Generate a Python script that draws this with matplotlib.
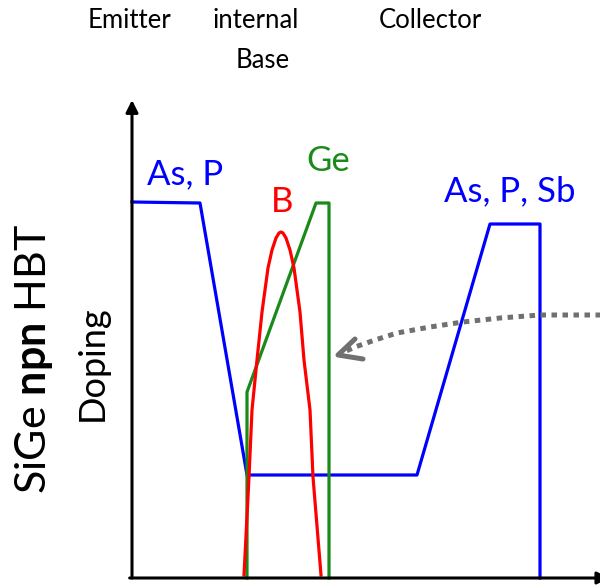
import matplotlib
matplotlib.use("Agg")
import matplotlib.pyplot as plt

plt.rcParams["font.family"] = ["Lato", "DejaVu Sans"]
plt.rcParams["mathtext.fontset"] = "custom"
plt.rcParams["mathtext.rm"] = "Lato"
plt.rcParams["mathtext.bf"] = "Lato:bold"

# Doping profiles (depth, level)
emitter_depth = [0, 68, 115, 285, 358, 408, 408]
emitter_level = [376, 375, 103, 103, 354, 354, 0]

ge_depth = [115, 115, 184, 197, 197]
ge_level = [0, 186, 375, 375, 0]

b_depth = [112, 117, 120, 125, 130, 133, 136, 140, 144, 147, 149, 151,
           154, 158, 162, 165, 168, 172, 178, 181, 189]
b_level = [3, 101, 168, 218, 266, 288, 310, 328, 340, 345, 346, 345,
           340, 328, 310, 288, 266, 218, 168, 101, 3]

# dotted pointer curve
arrow_depth = [470, 408, 368, 331, 298, 265, 243, 223, 212]
arrow_level = [263, 263, 260, 256, 251, 245, 238, 231, 226]
head_depth = [223, 206, 231]
head_level = [239, 223, 219]

region_labels = ["Emitter", "internal", "Base", "Collector"]

BLUE = "#0000ff"
GREEN = "#1a8a1a"
RED = "#ff0000"
GREY = "#707070"

fig = plt.figure(figsize=(6.0, 5.88), dpi=100)
ax = fig.add_axes([132 / 600, 10 / 588, 468 / 600, 478 / 588])
ax.set_xlim(0, 468)
ax.set_ylim(0, 478)
ax.axis("off")

line_kw = dict(lw=2.3, clip_on=False, solid_joinstyle="round")
ax.plot(emitter_depth, emitter_level, color=BLUE, **line_kw)
ax.plot(ge_depth, ge_level, color=GREEN, **line_kw)
ax.plot(b_depth, b_level, color=RED, **line_kw)

ax.plot(arrow_depth, arrow_level, color=GREY, lw=3.6,
        ls=(0, (1.1, 1.1)), dash_capstyle="butt", clip_on=False)
ax.plot(head_depth, head_level, color=GREY, lw=3.6, solid_capstyle="round",
        solid_joinstyle="round", clip_on=False)

# axes with arrow heads
ax.annotate("", xy=(0, 1.0), xytext=(0, 0), xycoords="axes fraction",
            arrowprops=dict(arrowstyle="-|>", lw=2.2, color="k",
                            mutation_scale=18, shrinkA=0, shrinkB=0))
ax.annotate("", xy=(1.02, 0), xytext=(-0.005, 0), xycoords="axes fraction",
            arrowprops=dict(arrowstyle="-|>", lw=2.2, color="k",
                            mutation_scale=18, shrinkA=0, shrinkB=0))

kw = dict(ha="center", va="center", clip_on=False)
ax.text(-2, 558, region_labels[0], fontsize=18.5, **kw)
ax.text(124, 558, region_labels[1], fontsize=18.5, **kw)
ax.text(131, 518, region_labels[2], fontsize=18.5, **kw)
ax.text(298, 558, region_labels[3], fontsize=18.5, **kw)

ax.text(53, 404, "As, P", fontsize=25, color=BLUE, **kw)
ax.text(150, 376, "B", fontsize=25, color=RED, **kw)
ax.text(196, 417, "Ge", fontsize=25, color=GREEN, **kw)
ax.text(378, 387, "As, P, Sb", fontsize=25, color=BLUE, **kw)

ax.text(-98, 219, r"SiGe $\mathbf{npn}$ HBT", fontsize=31, rotation=90, **kw)
ax.text(-40, 215, "Doping", fontsize=26, rotation=90, **kw)

fig.savefig("out.png", dpi=100)
